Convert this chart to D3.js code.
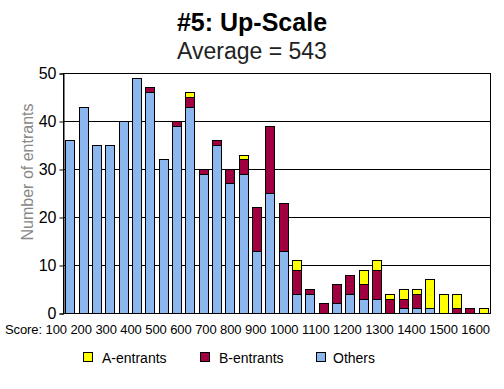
<!DOCTYPE html>
<html>
<head>
<meta charset="utf-8">
<script src="https://cdn.jsdelivr.net/npm/d3@7.9.0/dist/d3.min.js"></script>
<style>
  body { margin: 0; background: #fff; }
  text { font-family: "Liberation Sans", Arial, sans-serif; }
</style>
</head>
<body>
<div id="chart"></div>
<script>
// score bins (one bar per 50 points)
const bins = ['100','150','200','250','300','350','400','450','500','550','600','650','700','750','800','850',
              '900','950','1000','1050','1100','1150','1200','1250','1300','1350','1400','1450','1500','1550','1600','1650'];
const others = [36,43,35,35,40,49,46,32,39,43,29,35,27,29,13,25,13,4,4,0,2,4,3,3,0,1,1,1,0,0,0,0];
const bEntrants = [0,0,0,0,0,0,1,0,1,2,1,1,3,3,9,14,10,5,1,2,4,4,3,6,3,2,3,0,0,1,1,0];
const aEntrants = [0,0,0,0,0,0,0,0,0,1,0,0,0,1,0,0,0,2,0,0,0,0,3,2,1,2,1,6,4,3,0,1];
const scoreLabels = ['100','200','300','400','500','600','700','800','900','1000','1100','1200','1300','1400','1500','1600'];
const yTicks = [0,10,20,30,40,50];

const series = [
  { key: 'Others', values: others, color: '#8cb6ee' },
  { key: 'B-entrants', values: bEntrants, color: '#a0003f' },
  { key: 'A-entrants', values: aEntrants, color: '#ffff00' }
];
const legendOrder = ['A-entrants', 'B-entrants', 'Others'];

const width = 504, height = 389;
const margin = { top: 73, right: 14, bottom: 76, left: 63 };

const svg = d3.select('#chart').append('svg')
  .attr('width', width).attr('height', height);

const x = d3.scaleBand()
  .domain(bins)
  .range([margin.left, width - margin.right])
  .paddingInner(0.33).paddingOuter(0.17);
const y = d3.scaleLinear().domain([0, 50]).range([height - margin.bottom, margin.top]);

// titles
svg.append('text').attr('x', 252).attr('y', 31).attr('text-anchor', 'middle')
  .style('font-size', '25px').style('font-weight', 'bold').text('#5: Up-Scale');
svg.append('text').attr('x', 252).attr('y', 59).attr('text-anchor', 'middle')
  .style('font-size', '23px').attr('fill', '#222').text('Average = 543');

// gridlines
svg.append('g')
  .selectAll('line')
  .data(yTicks.slice(1))
  .join('line')
  .attr('x1', margin.left).attr('x2', width - margin.right)
  .attr('y1', d => y(d) + 0.5).attr('y2', d => y(d) + 0.5)
  .attr('stroke', '#000');

// stacked bars
const table = bins.map((b, i) => {
  const row = { bin: b };
  series.forEach(s => row[s.key] = s.values[i]);
  return row;
});
const stacked = d3.stack().keys(series.map(s => s.key))(table);

svg.append('g').selectAll('g')
  .data(stacked)
  .join('g')
  .attr('fill', (d, i) => series[i].color)
  .selectAll('rect')
  .data(d => d.filter(p => p[1] > p[0]))
  .join('rect')
  .attr('x', d => Math.round(x(d.data.bin)) + 0.5)
  .attr('y', d => Math.round(y(d[1])) + 0.5)
  .attr('width', Math.round(x.bandwidth()))
  .attr('height', d => Math.round(y(d[0])) - Math.round(y(d[1])))
  .attr('stroke', '#000').attr('stroke-width', 1);

// plot frame
svg.append('rect')
  .attr('x', margin.left + 0.5).attr('y', margin.top + 0.5)
  .attr('width', width - margin.left - margin.right)
  .attr('height', height - margin.top - margin.bottom)
  .attr('fill', 'none').attr('stroke', '#000');

// y axis
const yAxis = svg.append('g')
  .attr('transform', `translate(${margin.left + 0.5},0.5)`)
  .call(d3.axisLeft(y).tickValues(yTicks).tickSize(4).tickPadding(3));
yAxis.select('.domain').attr('stroke', '#000');
yAxis.selectAll('text').style('font-size', '16px').attr('fill', '#000').attr('dy', '0.3em');

svg.append('text')
  .attr('transform', 'translate(33,172) rotate(-90)')
  .attr('text-anchor', 'middle')
  .style('font-size', '16px').attr('fill', '#888')
  .text('Number of entrants');

// score labels under the axis
const scoreText = svg.append('text')
  .attr('x', 5).attr('y', 334)
  .attr('textLength', 485).attr('lengthAdjust', 'spacing')
  .style('font-size', '13px').attr('fill', '#000');
scoreText.append('tspan').text('Score:');
scoreText.selectAll('tspan.lab')
  .data(scoreLabels)
  .join('tspan').attr('class', 'lab')
  .text(d => ' ' + d);

// legend
const legendX = [83, 200, 316];
const lg = svg.append('g').selectAll('g')
  .data(legendOrder)
  .join('g')
  .attr('transform', (d, i) => `translate(${legendX[i]},352)`);
lg.append('rect')
  .attr('x', 0.5).attr('y', 0.5).attr('width', 9).attr('height', 9)
  .attr('fill', d => series.find(s => s.key === d).color)
  .attr('stroke', '#000');
lg.append('text')
  .attr('x', d => d === 'Others' ? 17 : 19).attr('y', 10.5)
  .style('font-size', '14px')
  .text(d => d);
</script>
</body>
</html>
